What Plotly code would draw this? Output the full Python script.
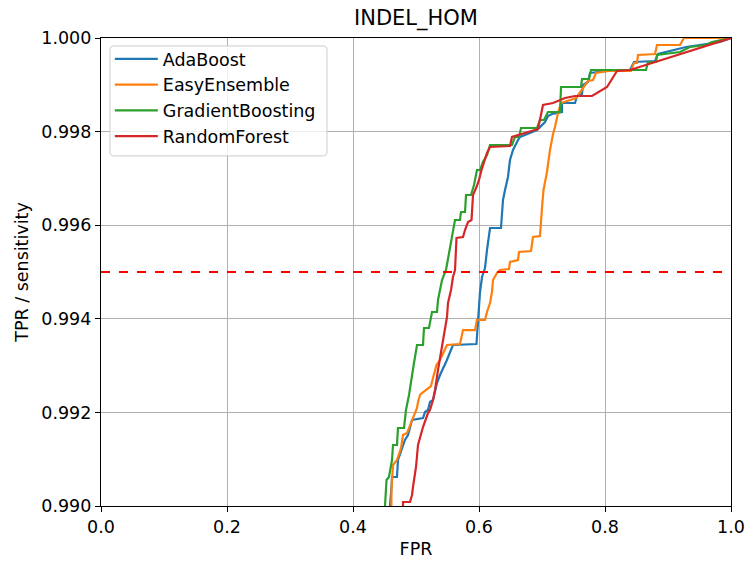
import plotly.graph_objects as go

# ROC curves (FPR, TPR) per classifier, INDEL_HOM variants
ada_fpr = [0.0, 0.4587, 0.4611, 0.4619, 0.4698, 0.4714, 0.4825, 0.4873, 0.4937, 0.5111, 0.5143,
           0.5190, 0.5222, 0.5270, 0.5333, 0.5381, 0.5484, 0.5587, 0.5960, 0.5992, 0.6016, 0.6048,
           0.6095, 0.6127, 0.6175, 0.6349, 0.6381, 0.6413, 0.6460, 0.6492, 0.6540, 0.6619, 0.6651,
           0.6921, 0.7048, 0.7095, 0.7159, 0.7317, 0.7317, 0.7524, 0.7556, 0.7635, 0.7651, 0.7730,
           0.7762, 0.8032, 0.8397, 0.8460, 0.8794, 0.8841, 0.9286, 0.9825, 1.0]
ada_tpr = [0.0, 0.990000, 0.990406, 0.990620, 0.990620, 0.990983, 0.991410, 0.991516, 0.991837,
           0.991880, 0.992008, 0.992051, 0.992222, 0.992265, 0.992628, 0.992799, 0.993098, 0.993440,
           0.993461, 0.994038, 0.994572, 0.994893, 0.995085, 0.995470, 0.995940, 0.995940, 0.996538,
           0.996752, 0.997030, 0.997393, 0.997607, 0.997820, 0.997885, 0.998034, 0.998205, 0.998333,
           0.998376, 0.998419, 0.998611, 0.998611, 0.998761, 0.998803, 0.998996, 0.999060, 0.999252,
           0.999295, 0.999316, 0.999487, 0.999508, 0.999658, 0.999808, 0.999915, 1.0]

easy_fpr = [0.0, 0.4603, 0.4611, 0.4635, 0.4698, 0.4762, 0.4794, 0.4857, 0.4952, 0.5016, 0.5032,
            0.5063, 0.5095, 0.5238, 0.5270, 0.5325, 0.5381, 0.5429, 0.5492, 0.5698, 0.5722, 0.5746,
            0.5937, 0.5968, 0.6095, 0.6127, 0.6175, 0.6206, 0.6222, 0.6286, 0.6333, 0.6476, 0.6492,
            0.6619, 0.6635, 0.6825, 0.6857, 0.6968, 0.7000, 0.7024, 0.7079, 0.7127, 0.7175, 0.7206,
            0.7254, 0.7302, 0.7540, 0.7651, 0.7730, 0.7810, 0.7857, 0.8048, 0.8413, 0.8460, 0.8508,
            0.8524, 0.8794, 0.8825, 0.9190, 0.9254, 1.0]
easy_tpr = [0.0, 0.990000, 0.990342, 0.990876, 0.990983, 0.991239, 0.991516, 0.991559, 0.991901,
            0.992094, 0.992222, 0.992372, 0.992414, 0.992564, 0.992735, 0.993013, 0.993119, 0.993269,
            0.993440, 0.993461, 0.993632, 0.993760, 0.993760, 0.993974, 0.993974, 0.994145, 0.994337,
            0.994572, 0.994829, 0.994979, 0.995043, 0.995064, 0.995214, 0.995256, 0.995427, 0.995448,
            0.995748, 0.995769, 0.996367, 0.996752, 0.997137, 0.997607, 0.997949, 0.998098, 0.998397,
            0.998611, 0.998718, 0.998932, 0.999081, 0.999103, 0.999252, 0.999295, 0.999295, 0.999466,
            0.999466, 0.999637, 0.999658, 0.999850, 0.999850, 1.0, 1.0]

gb_fpr = [0.0, 0.4508, 0.4532, 0.4571, 0.4619, 0.4635, 0.4698, 0.4714, 0.4810, 0.4841, 0.4889,
          0.4921, 0.4968, 0.5016, 0.5111, 0.5127, 0.5206, 0.5254, 0.5333, 0.5349, 0.5413, 0.5476,
          0.5556, 0.5619, 0.5698, 0.5714, 0.5778, 0.5794, 0.5873, 0.5921, 0.5968, 0.6016, 0.6063,
          0.6127, 0.6175, 0.6524, 0.6571, 0.6635, 0.6667, 0.6921, 0.6968, 0.7032, 0.7095, 0.7286,
          0.7302, 0.7619, 0.7635, 0.7746, 0.7778, 0.8651, 0.8683, 0.8810, 0.8825, 0.9190, 0.9349,
          0.9603, 0.9698, 1.0]
gb_tpr = [0.0, 0.990000, 0.990556, 0.990620, 0.990983, 0.991303, 0.991303, 0.991667, 0.991667,
          0.992051, 0.992372, 0.992692, 0.993056, 0.993440, 0.993440, 0.993803, 0.993803, 0.994145,
          0.994145, 0.994402, 0.994829, 0.995043, 0.995684, 0.996111, 0.996111, 0.996282, 0.996282,
          0.996645, 0.996645, 0.996859, 0.997179, 0.997179, 0.997350, 0.997500, 0.997714, 0.997714,
          0.997885, 0.997885, 0.998077, 0.998077, 0.998248, 0.998248, 0.998419, 0.998419, 0.998953,
          0.998953, 0.999124, 0.999124, 0.999316, 0.999316, 0.999487, 0.999487, 0.999637, 0.999701,
          0.999808, 0.999850, 0.999915, 1.0]

rf_fpr = [0.0, 0.4794, 0.4794, 0.4905, 0.4937, 0.4952, 0.5000, 0.5032, 0.5079, 0.5111, 0.5190,
          0.5222, 0.5270, 0.5302, 0.5349, 0.5381, 0.5429, 0.5492, 0.5508, 0.5556, 0.5587, 0.5619,
          0.5643, 0.5746, 0.5778, 0.5825, 0.5881, 0.5905, 0.5960, 0.6000, 0.6040, 0.6095, 0.6127,
          0.6175, 0.6492, 0.6524, 0.6937, 0.7016, 0.7175, 0.7365, 0.7524, 0.7794, 0.8032, 0.8190,
          0.8397, 1.0]
rf_tpr = [0.0, 0.990000, 0.990085, 0.990085, 0.990235, 0.990406, 0.990833, 0.991303, 0.991516,
          0.991687, 0.991986, 0.992051, 0.992265, 0.992478, 0.992906, 0.993162, 0.993547, 0.994038,
          0.994337, 0.994615, 0.994893, 0.995043, 0.995726, 0.995748, 0.995897, 0.996068, 0.996111,
          0.996645, 0.996816, 0.996966, 0.997179, 0.997393, 0.997543, 0.997671, 0.997692, 0.997885,
          0.998056, 0.998568, 0.998611, 0.998718, 0.998761, 0.998761, 0.998953, 0.999295, 0.999316,
          1.0]

series = [
    ("AdaBoost", ada_fpr, ada_tpr, "#1f77b4"),
    ("EasyEnsemble", easy_fpr, easy_tpr, "#ff7f0e"),
    ("GradientBoosting", gb_fpr, gb_tpr, "#2ca02c"),
    ("RandomForest", rf_fpr, rf_tpr, "#d62728"),
]

target_tpr = 0.995
x_ticks = [0.0, 0.2, 0.4, 0.6, 0.8, 1.0]
y_ticks = [0.990, 0.992, 0.994, 0.996, 0.998, 1.000]

FONT = "DejaVu Sans"
FS = 17.5

fig = go.Figure()
for name, fx, fy, color in series:
    fig.add_trace(go.Scatter(x=fx, y=fy, mode="lines", name=name,
                             line=dict(color=color, width=2.2)))

fig.add_trace(go.Scatter(x=[0.0, 1.0], y=[target_tpr, target_tpr], mode="lines",
                         showlegend=False, hoverinfo="skip",
                         line=dict(color="#ff0000", width=2.2, dash="dash")))

axis_common = dict(showline=True, linecolor="black", linewidth=1.2, mirror=True,
                   ticks="outside", ticklen=5, tickcolor="black", tickwidth=1.2,
                   showgrid=True, gridcolor="#b0b0b0", gridwidth=1, zeroline=False,
                   automargin=False,
                   tickfont=dict(family=FONT, size=FS, color="black"))

fig.update_xaxes(range=[0, 1], tickvals=x_ticks, tickformat=".1f",
                 title=dict(text="FPR", font=dict(family=FONT, size=FS, color="black"), standoff=6),
                 **axis_common)
fig.update_yaxes(range=[0.990, 1.000], tickvals=y_ticks, tickformat=".3f",
                 title=dict(text="TPR / sensitivity", font=dict(family=FONT, size=FS, color="black"), standoff=8),
                 **axis_common)

# rounded legend frame, in paper coordinates
x0, x1, y0, y1 = 0.0143, 0.3587, 0.748, 0.983
rx, ry = 0.0065, 0.0088
frame = (f"M{x0 + rx},{y1} L{x1 - rx},{y1} Q{x1},{y1} {x1},{y1 - ry} "
         f"L{x1},{y0 + ry} Q{x1},{y0} {x1 - rx},{y0} "
         f"L{x0 + rx},{y0} Q{x0},{y0} {x0},{y0 + ry} "
         f"L{x0},{y1 - ry} Q{x0},{y1} {x0 + rx},{y1} Z")

fig.update_layout(
    width=746, height=561,
    margin=dict(l=101, r=15, t=38, b=55),
    paper_bgcolor="white", plot_bgcolor="white",
    font=dict(family=FONT, size=FS, color="black"),
    title=dict(text="INDEL_HOM", x=0.5, xref="paper", xanchor="center",
               y=1, yref="container", yanchor="top", pad=dict(t=10),
               font=dict(family=FONT, size=21, color="black")),
    shapes=[dict(type="path", path=frame, xref="paper", yref="paper",
                 line=dict(color="#cccccc", width=1),
                 fillcolor="rgba(255,255,255,0.8)", layer="above")],
    legend=dict(x=0.014, y=0.9936, xanchor="left", yanchor="top",
                bgcolor="rgba(0,0,0,0)", borderwidth=0,
                itemwidth=43,
                font=dict(family=FONT, size=FS, color="black"), tracegroupgap=0),
    showlegend=True,
)

fig.write_html("out.html")
